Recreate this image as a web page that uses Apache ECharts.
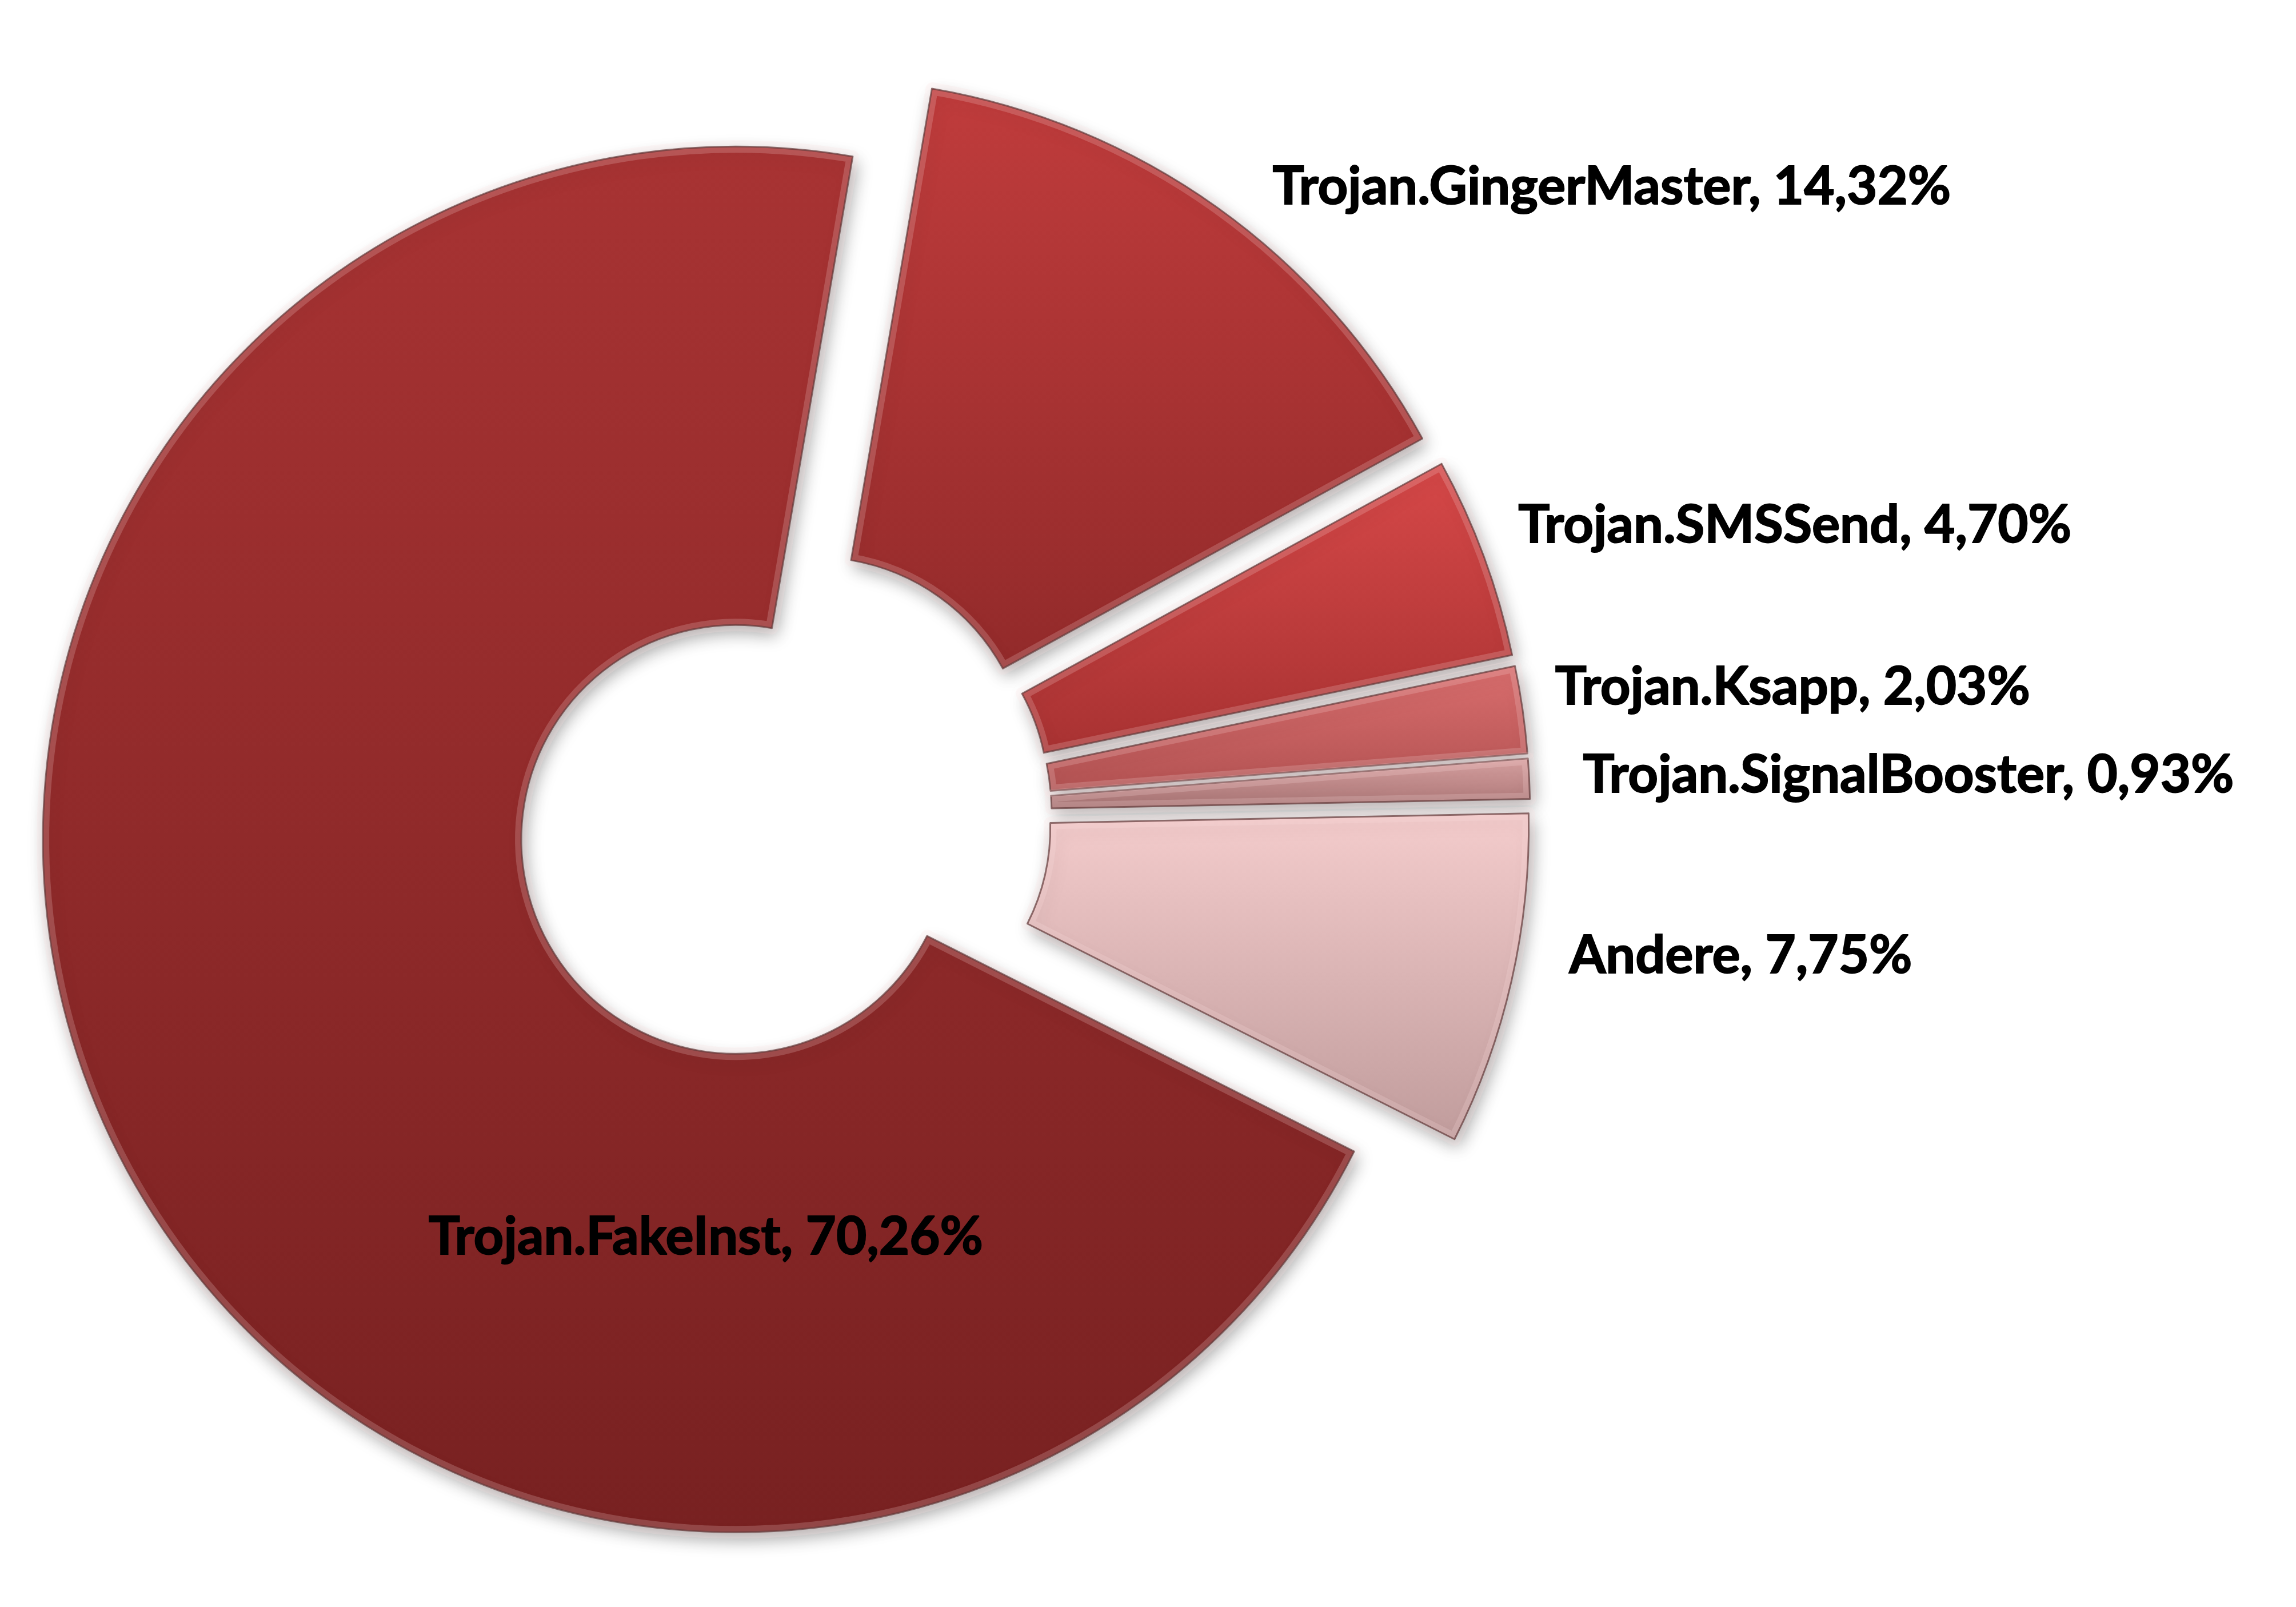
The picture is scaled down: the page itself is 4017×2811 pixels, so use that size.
<!DOCTYPE html>
<html>
<head>
<meta charset="utf-8">
<script src="https://cdn.jsdelivr.net/npm/echarts@6/dist/echarts.min.js"></script>
<style>
  html, body { margin: 0; padding: 0; background: #fff; }
  #chart { width: 4017px; height: 2811px; }
</style>
</head>
<body>
<div id="chart"></div>
<script>
// slices in clockwise order, starting just right of 12 o'clock
const categories = ['Trojan.GingerMaster', 'Trojan.SMSSend', 'Trojan.Ksapp', 'Trojan.SignalBooster', 'Andere', 'Trojan.FakeInst'];
const shares = [14.32, 4.70, 2.03, 0.93, 7.75, 70.26];

// top / bottom colours of each slice gradient
const sliceColors = {
  'Trojan.GingerMaster': ['#c03c3c', '#922a2a'],
  'Trojan.SMSSend': ['#d64848', '#a83232'],
  'Trojan.Ksapp': ['#da6e6e', '#b25252'],
  'Trojan.SignalBooster': ['#dca4a4', '#a67272'],
  'Andere': ['#f4cccc', '#c09c9c'],
  'Trojan.FakeInst': ['#a83333', '#782121']
};

// label nudges relative to echarts' default spot
const labelShift = {
  'Trojan.GingerMaster': [92, -36],
  'Trojan.SMSSend': [55, -55],
  'Trojan.Ksapp': [52, -39],
  'Trojan.SignalBooster': [89, -6],
  'Andere': [96, -43],
  'Trojan.FakeInst': [659, 338]
};

const fmt = v => v.toFixed(2).replace('.', ',');

const chart = echarts.init(document.getElementById('chart'), null, { renderer: 'canvas' });

const pieBase = {
  type: 'pie',
  center: [1371, 1426],
  radius: [375, 1212],
  startAngle: 80.27,
  clockwise: true,
  selectedMode: 'multiple',
  selectedOffset: 94,
  avoidLabelOverlap: false,
  emphasis: { disabled: true }
};

const slices = categories.map((name, i) => ({
  name: name,
  value: shares[i],
  selected: true,
  itemStyle: {
    color: new echarts.graphic.LinearGradient(0, 0, 0, 1, [
      { offset: 0, color: sliceColors[name][0] },
      { offset: 1, color: sliceColors[name][1] }
    ])
  },
  label: { position: name === 'Trojan.FakeInst' ? 'inside' : 'outside' }
}));

const sliceStyle = {
  borderColor: 'rgba(60,15,15,0.7)',
  borderWidth: 3,
  shadowBlur: 30,
  shadowColor: 'rgba(0,0,0,0.35)',
  shadowOffsetX: 6,
  shadowOffsetY: 12
};

// light rim on top of every slice, a cheap stand-in for the bevel
const rimStyle = {
  color: 'rgba(0,0,0,0)',
  borderColor: 'rgba(255,225,225,0.2)',
  borderWidth: 22
};

chart.setOption({
  animation: false,
  backgroundColor: '#fff',
  series: [
    Object.assign({}, pieBase, {
      name: 'slices',
      itemStyle: sliceStyle,
      select: { itemStyle: sliceStyle, label: { color: '#000' } },
      label: {
        show: true,
        color: '#000',
        fontFamily: 'Lato',
        fontWeight: 'bold',
        fontSize: 92,
        textBorderColor: '#000',
        textBorderWidth: 2,
        formatter: p => p.name + ', ' + fmt(p.value) + '%'
      },
      labelLine: { show: false, length: 0, length2: 0 },
      labelLayout: p => {
        const s = labelShift[categories[p.dataIndex]];
        return { dx: s[0], dy: s[1] };
      },
      data: slices
    }),
    Object.assign({}, pieBase, {
      name: 'rim',
      silent: true,
      itemStyle: rimStyle,
      select: { itemStyle: rimStyle },
      label: { show: false },
      labelLine: { show: false },
      data: categories.map((name, i) => ({ name: name, value: shares[i], selected: true }))
    })
  ]
});
</script>
</body>
</html>
